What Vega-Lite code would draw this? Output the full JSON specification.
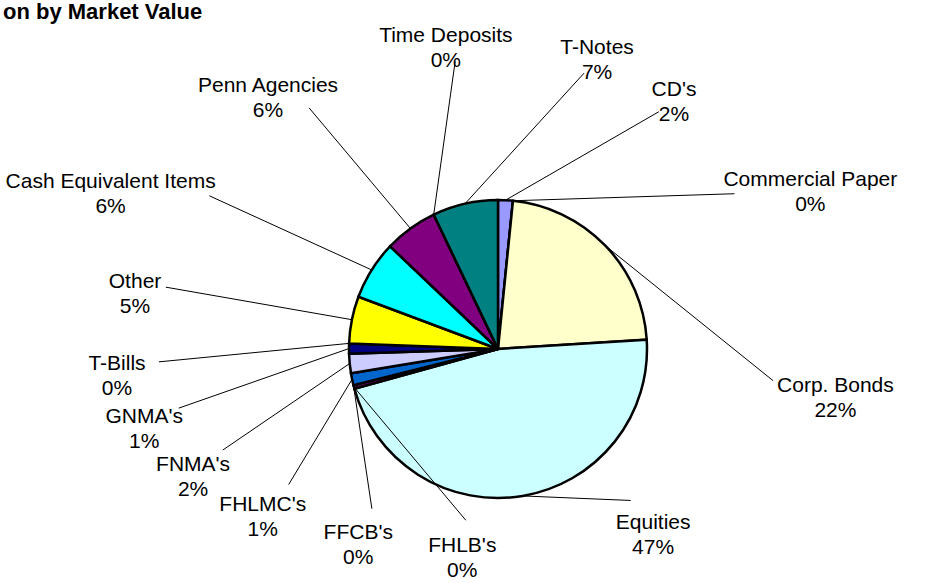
{
  "$schema": "https://vega.github.io/schema/vega-lite/v6.json",
  "width": 925,
  "height": 563,
  "autosize": "none",
  "padding": {"left": 0, "top": 20, "right": 0, "bottom": 0},
  "background": "white",
  "config": {"view": {"stroke": null}, "font": "Liberation Sans"},
  "title": {"text": "on by Market Value", "anchor": "start", "frame": "group", "fontSize": 22, "font": "Liberation Sans", "fontWeight": "bold", "color": "black", "baseline": "alphabetic", "offset": 4, "dx": 3, "dy": 25},
  "data": {"values": [
    {"category": "CD's", "value": 1.6},
    {"category": "Commercial Paper", "value": 0},
    {"category": "Corp. Bonds", "value": 22.4},
    {"category": "Equities", "value": 46.7},
    {"category": "FHLB's", "value": 0.4},
    {"category": "FFCB's", "value": 0},
    {"category": "FHLMC's", "value": 1.3},
    {"category": "FNMA's", "value": 2.1},
    {"category": "GNMA's", "value": 1.1},
    {"category": "T-Bills", "value": 0},
    {"category": "Other", "value": 5.1},
    {"category": "Cash Equivalent Items", "value": 6.4},
    {"category": "Penn Agencies", "value": 5.8},
    {"category": "Time Deposits", "value": 0},
    {"category": "T-Notes", "value": 7.1}
  ]},
  "transform": [
    {"window": [{"op": "row_number", "as": "idx"}, {"op": "sum", "field": "value", "as": "cum"}], "frame": [null, 0]},
    {"joinaggregate": [{"op": "sum", "field": "value", "as": "total"}]},
    {"calculate": "2*PI*(datum.cum - datum.value/2)/datum.total", "as": "mid"},
    {"calculate": "format(datum.value/datum.total, '.0%')", "as": "pct"},
    {"calculate": "max(length(datum.category), length(datum.pct))*10.6 + 10", "as": "bw"},
    {"calculate": "min(datum.bw / max(abs((sin(datum.mid) < 0 ? 340 : 280)*cos(datum.mid)), 0.001), 54 / max(abs(185*sin(datum.mid)), 0.001))", "as": "needrad"},
    {"calculate": "max(min(100*datum.value/datum.total, 15), 100*datum.needrad/(2*PI))", "as": "need"},
    {"window": [{"op": "sum", "field": "need", "as": "cumneed"}], "frame": [null, 0]},
    {"joinaggregate": [{"op": "sum", "field": "need", "as": "totalneed"}]},
    {"calculate": "2*PI*(datum.cumneed - datum.need/2)/datum.totalneed + PI/6", "as": "la"},
    {"calculate": "149*sin(datum.mid)", "as": "ix"},
    {"calculate": "149*cos(datum.mid)", "as": "iy"},
    {"calculate": "(sin(datum.la) < 0 ? 340 : 280) * sin(datum.la)", "as": "px"},
    {"calculate": "(cos(datum.la) > 0 ? 290 : 172) * cos(datum.la)", "as": "py"},
    {"calculate": "[datum.category, datum.pct]", "as": "lines"},
    {"calculate": "datum.px + (datum.bw/2)*sin(datum.la)", "as": "tx"},
    {"calculate": "datum.py + 26*cos(datum.la)", "as": "ty"}
  ],
  "layer": [
    {
      "mark": {"type": "arc", "radius": 149, "stroke": "black", "strokeWidth": 2.5, "strokeJoin": "miter"},
      "encoding": {
        "x": {"datum": 0, "type": "quantitative", "scale": {"domain": [-498, 427], "nice": false, "zero": false}, "axis": null},
        "y": {"datum": 0, "type": "quantitative", "scale": {"domain": [-234, 329], "nice": false, "zero": false}, "axis": null},
        "theta": {"field": "value", "type": "quantitative", "stack": true},
        "order": {"field": "idx", "type": "quantitative"},
        "color": {"field": "category", "type": "nominal", "legend": null,
          "scale": {"domain": ["CD's", "Commercial Paper", "Corp. Bonds", "Equities", "FHLB's", "FFCB's", "FHLMC's", "FNMA's", "GNMA's", "T-Bills", "Other", "Cash Equivalent Items", "Penn Agencies", "Time Deposits", "T-Notes"],
                    "range": ["#9999FF", "#993366", "#FFFFCC", "#CCFFFF", "#660066", "#FF8080", "#0066CC", "#CCCCFF", "#000080", "#FF00FF", "#FFFF00", "#00FFFF", "#800080", "#800000", "#008080"]}}
      }
    },
    {
      "mark": {"type": "rule", "color": "black", "strokeWidth": 1},
      "encoding": {
        "x": {"field": "ix", "type": "quantitative"},
        "y": {"field": "iy", "type": "quantitative"},
        "x2": {"field": "px"},
        "y2": {"field": "py"}
      }
    },
    {
      "mark": {"type": "text", "fontSize": 21, "font": "Liberation Sans", "lineHeight": 25, "align": "center", "baseline": "middle", "color": "black"},
      "encoding": {
        "x": {"field": "tx", "type": "quantitative"},
        "y": {"field": "ty", "type": "quantitative"},
        "text": {"field": "lines"}
      }
    }
  ]
}
